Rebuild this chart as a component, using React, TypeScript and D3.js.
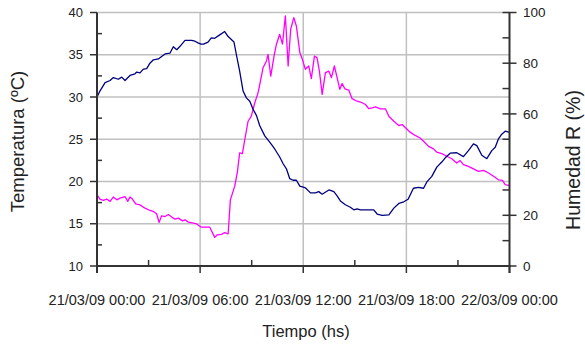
import React from "react";
import * as d3 from "d3";

const xTickLabels = ["21/03/09 00:00", "21/03/09 06:00", "21/03/09 12:00", "21/03/09 18:00", "22/03/09 00:00"];
const xMajorHours = [0, 6, 12, 18, 24];
const xMinorHours = [3, 9, 15, 21];
const leftMajorTicks = [10, 15, 20, 25, 30, 35, 40];
const leftMinorTicks = [12.5, 17.5, 22.5, 27.5, 32.5, 37.5];
const rightMajorTicks = [0, 20, 40, 60, 80, 100];
const rightMinorTicks = [10, 30, 50, 70, 90];

const tempHours = [0, 0.17, 0.47, 0.76, 0.95, 1.24, 1.44, 1.63, 1.92, 2.21, 2.31, 2.5, 2.7, 2.89, 3.08, 3.28, 3.57, 3.76, 3.96, 4.25, 4.44, 4.64, 4.83, 5.12, 5.51, 5.7, 5.88, 6.05, 6.2, 6.46, 6.65, 6.85, 7.14, 7.43, 7.63, 7.97, 8.11, 8.3, 8.5, 8.69, 8.89, 9.08, 9.28, 9.47, 9.76, 10.05, 10.34, 10.63, 10.83, 11.02, 11.21, 11.41, 11.6, 11.8, 12.05, 12.12, 12.42, 12.71, 12.9, 13.1, 13.49, 13.78, 13.97, 14.16, 14.45, 14.74, 14.94, 15.13, 15.33, 15.72, 16.1, 16.3, 16.59, 16.98, 17.27, 17.56, 17.85, 18.1, 18.41, 18.7, 19.0, 19.19, 19.48, 19.77, 20.06, 20.26, 20.55, 20.93, 21.32, 21.61, 21.9, 22.1, 22.39, 22.68, 22.97, 23.17, 23.36, 23.55, 23.75, 24.0];
const tempValues = [30.0, 30.7, 31.7, 31.95, 32.3, 32.1, 32.35, 31.95, 32.55, 32.75, 32.95, 32.85, 33.3, 33.35, 34.0, 34.4, 34.5, 34.8, 35.1, 35.2, 35.95, 35.6, 36.0, 36.7, 36.7, 36.6, 36.4, 36.25, 36.25, 36.5, 37.0, 36.95, 37.35, 37.75, 37.15, 36.5, 35.0, 33.05, 30.7, 29.9, 29.5, 28.55, 27.8, 26.6, 25.4, 24.65, 23.85, 22.9, 22.1, 21.5, 20.35, 20.15, 20.15, 19.45, 19.3, 19.25, 18.65, 18.65, 18.8, 18.5, 19.0, 18.8, 18.3, 17.7, 17.25, 16.95, 16.65, 16.75, 16.65, 16.65, 16.65, 16.15, 16.0, 16.05, 16.85, 17.4, 17.6, 17.9, 19.2, 19.3, 19.2, 19.95, 20.6, 21.7, 22.3, 22.8, 23.35, 23.4, 22.95, 23.65, 24.45, 24.25, 23.1, 22.7, 23.65, 24.05, 25.05, 25.6, 25.95, 25.8];

const humHours = [0, 0.17, 0.37, 0.56, 0.76, 0.95, 1.15, 1.34, 1.63, 1.79, 1.92, 2.06, 2.25, 2.5, 2.79, 3.08, 3.28, 3.47, 3.61, 3.76, 3.96, 4.15, 4.35, 4.54, 4.73, 4.97, 5.12, 5.32, 5.61, 5.8, 6.07, 6.56, 6.85, 7.0, 7.24, 7.43, 7.63, 7.76, 8.01, 8.16, 8.3, 8.46, 8.6, 8.79, 8.98, 9.18, 9.37, 9.47, 9.66, 9.86, 9.95, 10.11, 10.3, 10.44, 10.63, 10.79, 10.96, 11.12, 11.27, 11.45, 11.6, 11.8, 11.95, 12.12, 12.32, 12.47, 12.65, 12.8, 12.94, 13.1, 13.29, 13.49, 13.64, 13.81, 13.97, 14.13, 14.26, 14.42, 14.65, 14.84, 15.13, 15.42, 15.62, 15.81, 16.01, 16.2, 16.49, 16.78, 16.98, 17.27, 17.56, 17.75, 17.95, 18.22, 18.51, 18.8, 19.0, 19.29, 19.58, 19.77, 20.06, 20.35, 20.64, 20.93, 21.13, 21.32, 21.61, 21.9, 22.2, 22.49, 22.78, 23.07, 23.36, 23.59, 23.75, 24.0];
const humValues = [28.1, 26.4, 25.9, 26.4, 25.5, 27.2, 26.1, 26.8, 27.4, 25.5, 27.2, 26.4, 24.5, 24.1, 22.8, 21.9, 21.5, 20.6, 17.2, 19.8, 19.5, 20.3, 19.3, 18.5, 18.9, 17.8, 18.2, 17.3, 16.9, 16.6, 15.3, 15.3, 11.3, 12.3, 12.5, 13.2, 12.7, 26.1, 31.4, 36.7, 44.6, 44.3, 49.9, 57.1, 59.1, 64.4, 68.3, 71.6, 78.2, 80.9, 83.5, 74.9, 82.8, 87.5, 91.4, 87.5, 98.7, 78.9, 93.4, 98, 94.7, 84.2, 81.5, 77.6, 78.9, 73.9, 82.8, 82.2, 76.9, 67.7, 76.3, 76.9, 74.3, 78.9, 74.3, 69.7, 72, 69.9, 69.4, 66, 65, 64.4, 63.7, 62.1, 62.4, 62.8, 62, 62, 59.1, 57.1, 55.4, 55.8, 54.5, 52.8, 51.5, 50.5, 49.2, 47.2, 46.2, 44.9, 44.3, 43.3, 42.3, 40.6, 41.6, 40, 39.3, 38.3, 37.3, 37.7, 36.7, 35.4, 34, 33.8, 32.1, 31.7];

const W = 585;
const H = 345;
const X0 = 97;
const X1 = 509.5;
const YT = 12.5;
const YB = 266;
const FONT = "'Liberation Sans', Arial, sans-serif";
const TXT = "#222";
const AX = "#333";
const GRID = "#c0c0c0";

export default function App() {
  const x = d3.scaleLinear().domain([0, 24]).range([X0, X1]);
  const yL = d3.scaleLinear().domain([10, 40]).range([YB, YT]);
  const yR = d3.scaleLinear().domain([0, 100]).range([YB, YT]);

  const tempLine = d3
    .line<number>()
    .x((_, i) => x(tempHours[i]))
    .y((d) => yL(d));
  const humLine = d3
    .line<number>()
    .x((_, i) => x(humHours[i]))
    .y((d) => yR(d));

  return (
    <svg
      width={W}
      height={H}
      style={{ position: "absolute", left: 0, top: 0, background: "#fff" }}
      fontFamily={FONT}
    >
      <rect x={0} y={0} width={W} height={H} fill="#fff" />
      {/* grid */}
      {leftMajorTicks
        .filter((t) => t > 10)
        .map((t) => (
          <line key={"gh" + t} x1={X0} x2={X1} y1={yL(t)} y2={yL(t)} stroke={GRID} strokeWidth={1.5} />
        ))}
      {xMajorHours
        .filter((h) => h > 0 && h < 24)
        .map((h) => (
          <line key={"gv" + h} x1={x(h)} x2={x(h)} y1={YT} y2={YB} stroke={GRID} strokeWidth={1.5} />
        ))}

      {/* data lines */}
      <path d={humLine(humValues) || ""} fill="none" stroke="#ff00ff" strokeWidth={1.3} strokeLinejoin="round" />
      <path d={tempLine(tempValues) || ""} fill="none" stroke="#000080" strokeWidth={1.3} strokeLinejoin="round" />

      {/* left axis */}
      <line x1={X0} x2={X0} y1={YT} y2={YB + 7} stroke={AX} strokeWidth={2} />
      {leftMajorTicks.map((t) => (
        <g key={"lt" + t}>
          <line x1={X0 - 7} x2={X0} y1={yL(t)} y2={yL(t)} stroke={AX} strokeWidth={1.5} />
          <text x={83} y={yL(t)} dy="0.36em" textAnchor="end" fontSize={13} fill={TXT}>
            {t}
          </text>
        </g>
      ))}
      {leftMinorTicks.map((t) => (
        <line key={"lm" + t} x1={X0} x2={X0 + 5} y1={yL(t)} y2={yL(t)} stroke={AX} strokeWidth={1.5} />
      ))}

      {/* right axis */}
      <line x1={X1} x2={X1} y1={YT} y2={YB + 7} stroke={AX} strokeWidth={2} />
      {rightMajorTicks.map((t) => (
        <g key={"rt" + t}>
          <line x1={X1 - 7} x2={X1 + 7} y1={yR(t)} y2={yR(t)} stroke={AX} strokeWidth={1.5} />
          <text x={523} y={yR(t)} dy="0.36em" textAnchor="start" fontSize={13.5} fill={TXT}>
            {t}
          </text>
        </g>
      ))}
      {rightMinorTicks.map((t) => (
        <line key={"rm" + t} x1={X1 - 7} x2={X1} y1={yR(t)} y2={yR(t)} stroke={AX} strokeWidth={1.5} />
      ))}

      {/* bottom axis */}
      <line x1={X0 - 1} x2={X1 + 1} y1={YB} y2={YB} stroke={AX} strokeWidth={2} />
      {xMajorHours.map((h, i) => (
        <g key={"xt" + h}>
          <line x1={x(h)} x2={x(h)} y1={YB} y2={YB + 7} stroke={AX} strokeWidth={1.5} />
          <text x={x(h)} y={304.5} textAnchor="middle" fontSize={14.5} fill={TXT}>
            {xTickLabels[i]}
          </text>
        </g>
      ))}
      {xMinorHours.map((h) => (
        <line key={"xm" + h} x1={x(h)} x2={x(h)} y1={YB - 6} y2={YB} stroke={AX} strokeWidth={1.5} />
      ))}

      {/* titles */}
      <text x={306} y={337} textAnchor="middle" fontSize={16.5} fill={TXT}>
        Tiempo (hs)
      </text>
      <text transform="translate(24,141.5) rotate(-90)" textAnchor="middle" fontSize={18.5} fill={TXT}>
        Temperatura (ºC)
      </text>
      <text transform="translate(580,160) rotate(-90)" textAnchor="middle" fontSize={19.5} fill={TXT}>
        Humedad R (%)
      </text>
    </svg>
  );
}
